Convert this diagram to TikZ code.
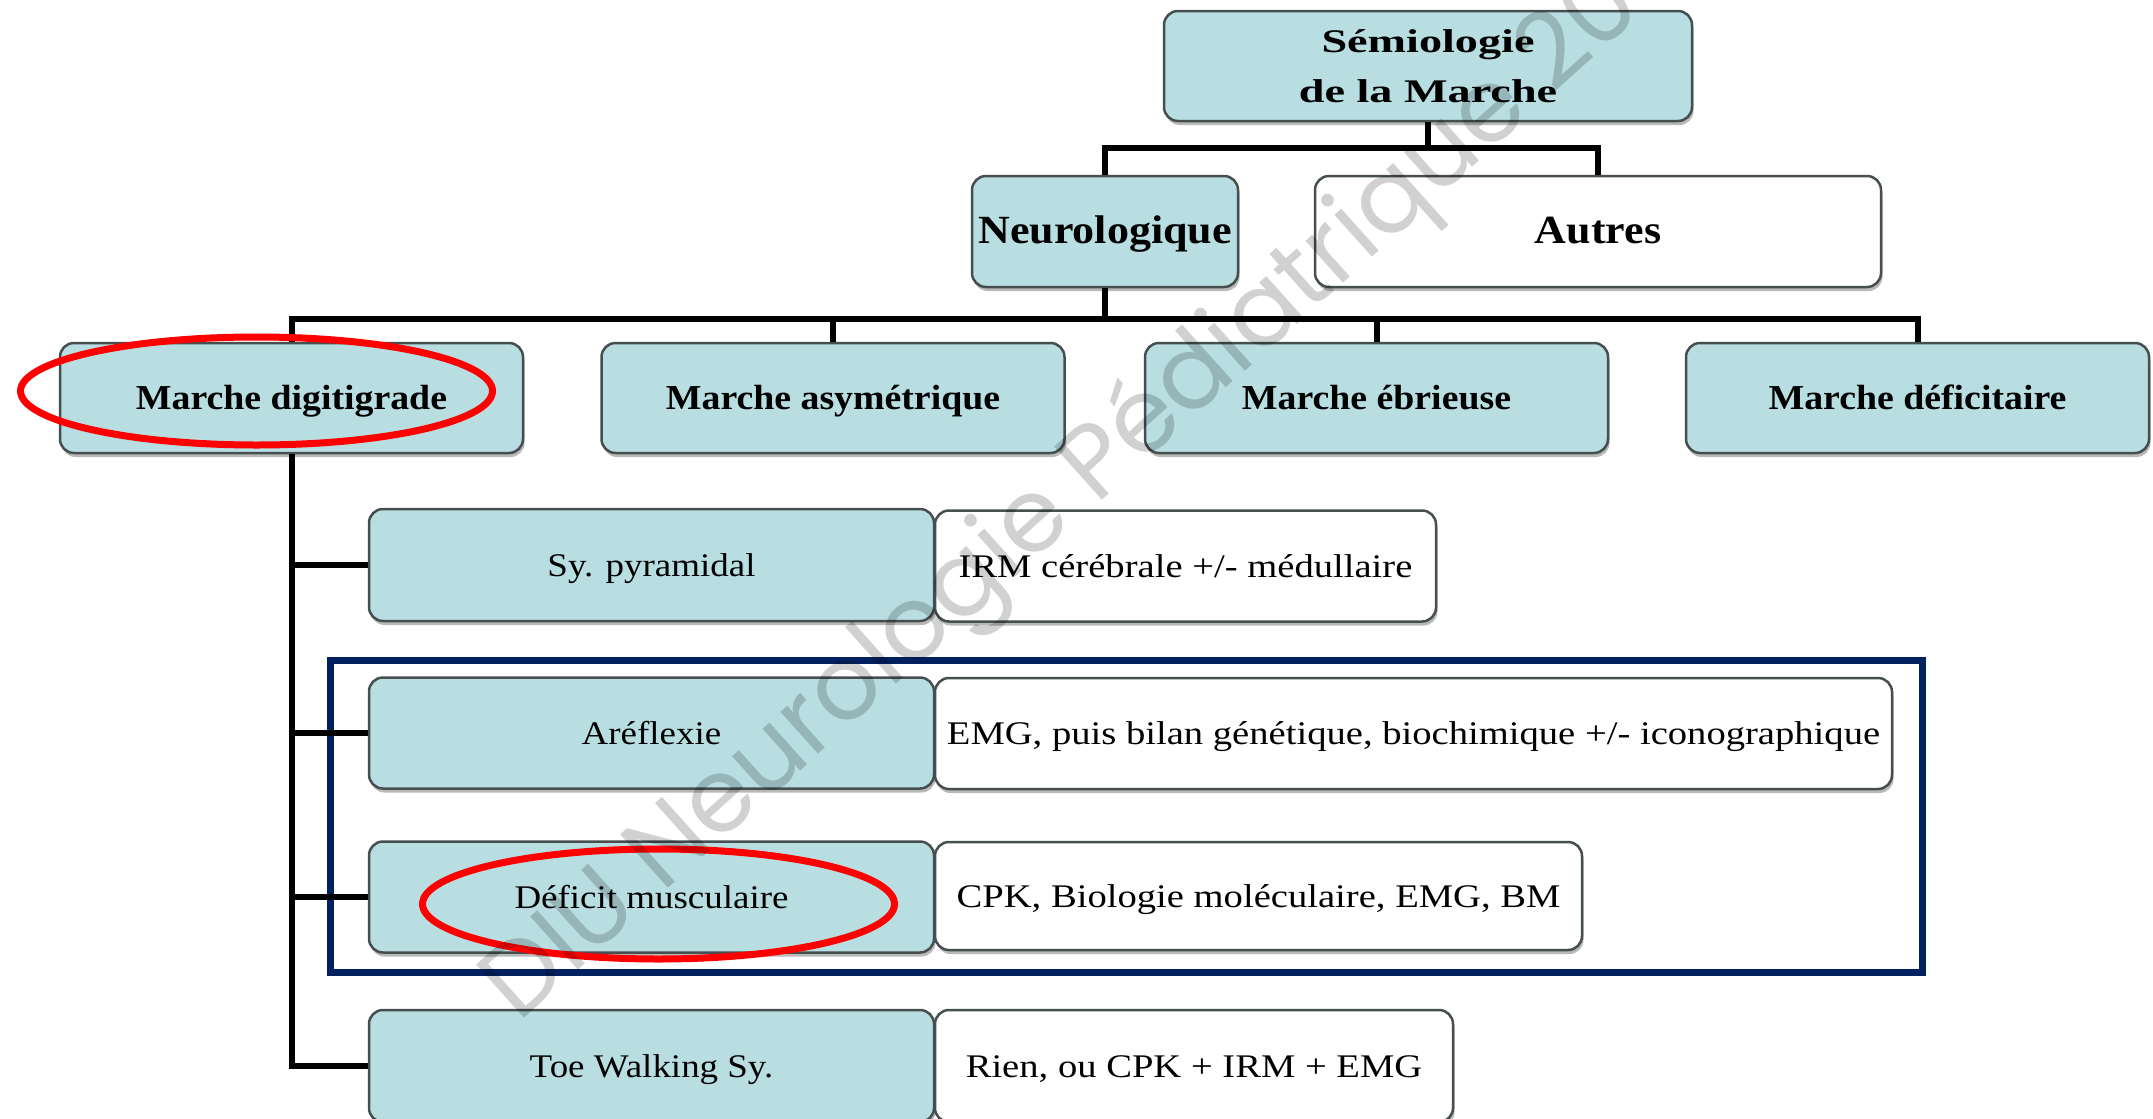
\documentclass[tikz,border=0pt]{standalone}
\usepackage{fontspec}
\setmainfont{Liberation Serif}
\newfontfamily\headfam[FakeStretch=1.4]{Liberation Serif}
\newfontfamily\midfam[FakeStretch=1.1]{Liberation Serif}
\newfontfamily\rowfam[FakeStretch=1.08]{Liberation Serif}
\newfontfamily\itemfam[FakeStretch=1.12]{Liberation Serif}
\newfontfamily\examfam[FakeStretch=1.17]{Liberation Serif}
\newfontfamily\wmfont{Poppins}
\usetikzlibrary{shadows}

\definecolor{boxblue}{RGB}{184,222,226}
\definecolor{boxline}{RGB}{70,78,80}
\definecolor{framenavy}{RGB}{0,32,96}
\definecolor{markred}{RGB}{255,0,0}

% watermark: scaled so that "DIU Neurologie Pédiatrique " spans 1391pt
\newsavebox\wmbox
\sbox\wmbox{\wmfont\fontsize{100}{100}\selectfont DIU Neurologie Pédiatrique\space}
\newlength\wmlen
\setlength\wmlen{\wd\wmbox}

\tikzset{
  basebox/.style={draw=boxline, line width=2.5pt, rounded corners=14pt,
    align=center, inner sep=0pt,
    drop shadow={shadow xshift=1.5pt, shadow yshift=-4pt, fill=black!50, opacity=0.55}},
  bluebox/.style={basebox, fill=boxblue},
  whitebox/.style={basebox, fill=white},
  titlefont/.style={font=\headfam\fontsize{33}{50}\selectfont\bfseries},
  headfont/.style={font=\midfam\fontsize{40}{46}\selectfont\bfseries,
    text height=24pt, text depth=0pt},
  rowfont/.style={font=\rowfam\fontsize{35}{42}\selectfont\bfseries,
    text height=23pt, text depth=0pt},
  itemfont/.style={font=\itemfam\fontsize{33}{40}\selectfont,
    text height=22pt, text depth=0pt},
  examfont/.style={font=\examfam\fontsize{33}{40}\selectfont,
    text height=22pt, text depth=0pt},
  conn/.style={line width=6pt, black, line join=miter},
  ring/.style={draw=markred, line width=7pt},
}

\begin{document}
\begin{tikzpicture}[x=1pt, y=-1pt]
\useasboundingbox (0,0) rectangle (2153,1119);
\fill[white] (0,0) rectangle (2153,1119);

% frame around the two myopathic branches
\draw[framenavy, line width=7pt] (330,660) rectangle (1922,972);

% top levels
\node[bluebox, titlefont, minimum width=528pt, minimum height=110pt] (top) at (1428,66)
  {Sémiologie\\de la Marche};
\node[bluebox, headfont, minimum width=266pt, minimum height=111pt] (neuro) at (1105,231.5)
  {Neurologique};
\node[whitebox, headfont, minimum width=566pt, minimum height=111pt] (autres) at (1598,231.5)
  {Autres};

% gait types
\node[bluebox, rowfont, minimum width=463pt, minimum height=110pt] (dig) at (291.5,398)
  {Marche digitigrade};
\node[bluebox, rowfont, minimum width=463pt, minimum height=110pt] (asym) at (833,398)
  {Marche asymétrique};
\node[bluebox, rowfont, minimum width=463pt, minimum height=110pt] (ebr) at (1376.5,398)
  {Marche ébrieuse};
\node[bluebox, rowfont, minimum width=463pt, minimum height=110pt] (defi) at (1917.5,398)
  {Marche déficitaire};

% causes of toe walking
\node[bluebox, itemfont, minimum width=565pt, minimum height=112pt] (pyr) at (651.5,565)
  {Sy. pyramidal};
\node[bluebox, itemfont, minimum width=565pt, minimum height=111pt] (are) at (651.5,733)
  {Aréflexie};
\node[bluebox, itemfont, minimum width=565pt, minimum height=111pt] (musc) at (651.5,897)
  {Déficit musculaire};
\node[bluebox, itemfont, minimum width=565pt, minimum height=112pt] (toe) at (651.5,1066)
  {Toe Walking Sy.};

% investigations
\node[whitebox, examfont, minimum width=501pt, minimum height=111pt] (irm) at (1185.5,566)
  {IRM cérébrale +/- médullaire};
\node[whitebox, examfont, minimum width=957pt, minimum height=111pt] (emg) at (1413.5,733.5)
  {EMG, puis bilan génétique, biochimique +/- iconographique};
\node[whitebox, examfont, minimum width=647pt, minimum height=108pt] (cpk) at (1258.5,896)
  {CPK, Biologie moléculaire, EMG, BM};
\node[whitebox, examfont, minimum width=518pt, minimum height=112pt] (rien) at (1194,1066)
  {Rien, ou CPK + IRM + EMG};

% tree connectors
\coordinate (b1) at (1428,148);
\coordinate (b2) at (1105,319);
\draw[conn] (top.south) -- (b1);
\draw[conn] (neuro.north) |- (b1) -| (autres.north);
\draw[conn] (neuro.south) -- (b2);
\draw[conn] (dig.north) |- (b2) -| (defi.north);
\draw[conn] (asym.north) -- (asym.north |- b2);
\draw[conn] (ebr.north) -- (ebr.north |- b2);
\draw[conn] (dig.south) |- (toe.west);
\draw[conn] (dig.south |- pyr.west) -- (pyr.west);
\draw[conn] (dig.south |- are.west) -- (are.west);
\draw[conn] (dig.south |- musc.west) -- (musc.west);

% red highlight rings
\draw[ring] (256.5,391) ellipse [x radius=236, y radius=54];
\draw[ring] (658.5,904) ellipse [x radius=236, y radius=55];

% watermark
\pgfmathsetmacro\wmscale{1391pt/\wmlen}
\node[anchor=base west, inner sep=0pt, rotate=41.9, scale=\wmscale,
      text=black, text opacity=0.18, font=\wmfont\fontsize{100}{100}\selectfont]
  (wm) at (518,1024) {DIU Neurologie Pédiatrique 20};
\end{tikzpicture}
\end{document}
